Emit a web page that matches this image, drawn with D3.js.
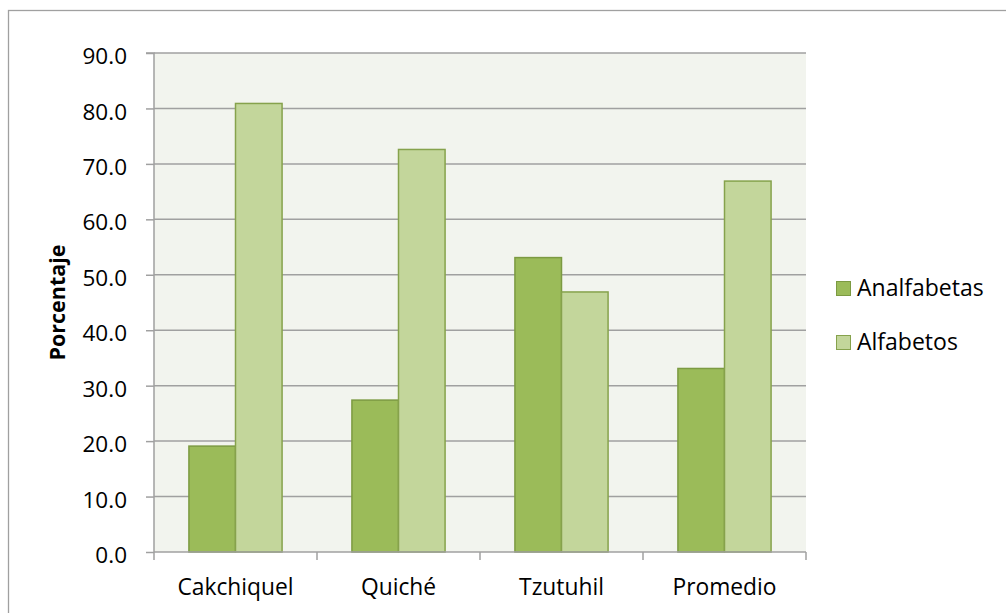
<!DOCTYPE html>
<html>
<head>
<meta charset="utf-8">
<script src="https://cdn.jsdelivr.net/npm/d3@7"></script>
<style>
  html, body { margin: 0; padding: 0; background: #fff; }
  svg { display: block; }
  text { font-family: "Open Sans", "Noto Sans", sans-serif; fill: #000; }
</style>
</head>
<body>
<svg id="chart" width="1006" height="613"></svg>
<script>
const categories = ["Cakchiquel", "Quiché", "Tzutuhil", "Promedio"];
const seriesNames = ["Analfabetas", "Alfabetos"];
const analfabetas = [19.1, 27.4, 53.1, 33.1];
const alfabetos = [80.9, 72.6, 46.9, 66.9];
const yTicks = [0, 10, 20, 30, 40, 50, 60, 70, 80, 90];
const yTitle = "Porcentaje";

const fills = ["#9BBB59", "#C3D69B"];
const strokes = ["#7C9A42", "#86A24C"];

const svg = d3.select("#chart");
const margin = { left: 154, top: 53, right: 806, bottom: 552 };

// outer chart border
svg.append("rect")
  .attr("x", 8.5).attr("y", 10.5)
  .attr("width", 1006).attr("height", 620)
  .attr("fill", "#fff").attr("stroke", "#A0A0A0").attr("stroke-width", 1.3);

const x0 = d3.scaleBand().domain(categories).range([margin.left, margin.right]).paddingInner(0).paddingOuter(0);
const y = d3.scaleLinear().domain([0, 90]).range([margin.bottom, margin.top]);

// plot background
svg.append("rect")
  .attr("x", margin.left).attr("y", margin.top)
  .attr("width", margin.right - margin.left).attr("height", margin.bottom - margin.top)
  .attr("fill", "#F2F4EE");

// gridlines
svg.append("g").selectAll("line").data(yTicks.filter(d => d > 0)).join("line")
  .attr("x1", margin.left).attr("x2", margin.right)
  .attr("y1", d => y(d)).attr("y2", d => y(d))
  .attr("stroke", "#A0A0A0").attr("stroke-width", 1.5);

// bars (gap width 150%)
const data = categories.map((c, i) => ({ cat: c, vals: [analfabetas[i], alfabetos[i]] }));
const bw = x0.bandwidth() / 3.5;
const g = svg.append("g");
data.forEach(d => {
  d.vals.forEach((v, j) => {
    const bx = x0(d.cat) + x0.bandwidth() * 0.75 / 3.5 + j * bw;
    g.append("rect")
      .attr("x", bx).attr("y", y(v))
      .attr("width", bw).attr("height", y(0) - y(v))
      .attr("fill", fills[j]).attr("stroke", strokes[j]).attr("stroke-width", 1.5);
  });
});

// y axis
const yAxis = d3.axisLeft(y).tickValues(yTicks).tickSize(8).tickPadding(19).tickFormat(d3.format(".1f"));
const ya = svg.append("g").attr("transform", `translate(${margin.left},0)`).call(yAxis);
ya.select(".domain").attr("stroke", "#A0A0A0").attr("stroke-width", 1.5).attr("d", `M-8,${margin.top}H0V${margin.bottom}`);
ya.selectAll(".tick line").attr("stroke", "#A0A0A0").attr("stroke-width", 1.5);
ya.selectAll(".tick text").attr("font-size", 22.5).attr("font-family", "'Open Sans', sans-serif").attr("dy", "0.47em").attr("fill", "#000");

// x axis
const xAxis = d3.axisBottom(x0).tickSize(0).tickPadding(27);
const xa = svg.append("g").attr("transform", `translate(0,${margin.bottom})`).call(xAxis);
xa.select(".domain").attr("stroke", "#A0A0A0").attr("stroke-width", 1.5).attr("d", `M${margin.left},0H${margin.right}`);
xa.selectAll(".tick text").attr("font-size", 22.8).attr("font-family", "'Open Sans', sans-serif").attr("fill", "#000");
// category separator ticks
const sepTicks = d3.range(categories.length + 1).map(i => margin.left + i * x0.bandwidth());
xa.append("g").selectAll("line").data(sepTicks).join("line")
  .attr("x1", d => d).attr("x2", d => d).attr("y1", 0).attr("y2", 8)
  .attr("stroke", "#A0A0A0").attr("stroke-width", 1.5);

// y title
svg.append("text")
  .attr("transform", `translate(65,${(margin.top + margin.bottom) / 2}) rotate(-90)`)
  .attr("text-anchor", "middle")
  .attr("font-size", 21.5).attr("font-weight", "bold")
  .text(yTitle);

// legend
const legend = svg.append("g");
seriesNames.forEach((s, i) => {
  const ly = 281 + i * 54;
  legend.append("rect").attr("x", 836.5).attr("y", ly + 0.5).attr("width", 14).attr("height", 14)
    .attr("fill", fills[i]).attr("stroke", strokes[i]).attr("stroke-width", 1);
  legend.append("text").attr("x", 857).attr("y", ly + 15)
    .attr("font-size", 23).text(s);
});
</script>
</body>
</html>
